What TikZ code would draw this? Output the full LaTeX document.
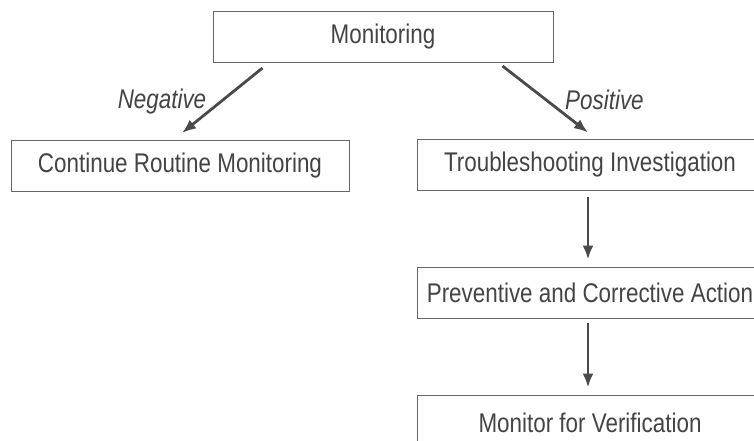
\documentclass[tikz,border=0pt]{standalone}
\usepackage{fontspec}
\setmainfont{Liberation Sans}[FakeStretch=0.83]
\usetikzlibrary{arrows.meta,calc}
\definecolor{txt}{HTML}{444444}
\definecolor{boxline}{HTML}{666666}
\definecolor{arr}{HTML}{4A4A4A}
\begin{document}
\begin{tikzpicture}[x=1pt,y=-1pt,
  box/.style={draw=boxline,line width=1pt,text=txt,minimum height=51pt,inner sep=0pt,
    font=\fontsize{27}{30}\selectfont},
  flow/.style={draw=arr,line width=2.8pt,-{Latex[length=14pt,width=11pt]}},
  lab/.style={text=txt,font=\fontsize{27}{30}\selectfont\itshape,inner sep=0pt}]
\useasboundingbox (0,0) rectangle (754,441);
\clip (0,0) rectangle (754,441);
\fill[white] (0,0) rectangle (754,441);
\node[box,minimum width=340pt] (mon) at (383,37) {Monitoring};
\node[box,minimum width=338pt] (cont) at (180,166) {Continue Routine Monitoring};
\node[box,minimum width=346pt] (trouble) at (590,164.5) {Troubleshooting Investigation};
\node[box,minimum width=346pt] (prev) at (590,292.5) {Preventive and Corrective Action};
\node[box,minimum width=346pt,minimum height=55pt] (verif) at (590,422.5) {Monitor for Verification};
\coordinate (n1) at ($(mon.south west)+(50,5)$);
\coordinate (n2) at ($(cont.north)+(2,-7)$);
\coordinate (p1) at ($(mon.south east)+(-51,3)$);
\coordinate (p2) at ($(trouble.north)+(-2,-6)$);
\draw[flow] (n1) -- (n2);
\draw[flow] (p1) -- (p2);
\draw[flow] ($(trouble.south)+(-2,6)$) -- ($(prev.north)+(-2,-7)$);
\draw[flow] ($(prev.south)+(-2,4)$) -- ($(verif.north)+(-2,-7)$);
\node[lab] (neg) at (162,102) {Negative};
\node[lab,anchor=west] (pos) at (565,100) {Positive};
\end{tikzpicture}
\end{document}
